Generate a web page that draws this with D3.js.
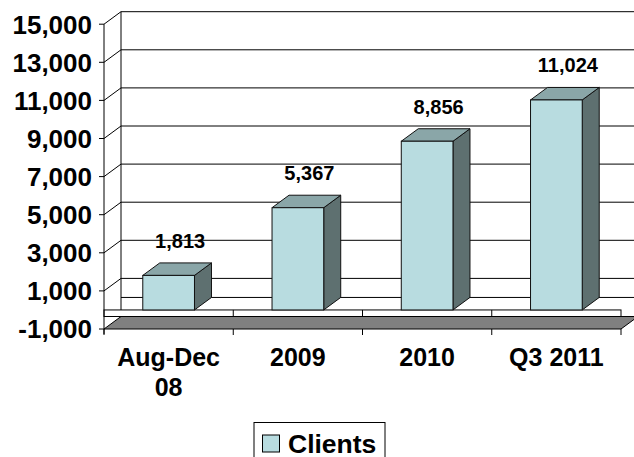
<!DOCTYPE html>
<html><head><meta charset="utf-8">
<script src="https://cdn.jsdelivr.net/npm/d3@7"></script>
<style>
html,body{margin:0;padding:0;background:#fff;}
svg{display:block;font-family:"Liberation Sans",Arial,sans-serif;font-weight:bold;}
</style></head>
<body>
<svg id="c" width="634" height="457"></svg>
<script>
const categories = ["Aug-Dec 08", "2009", "2010", "Q3 2011"];
const categoryLines = [["Aug-Dec", "08"], ["2009"], ["2010"], ["Q3 2011"]];
const clients = [1813, 5367, 8856, 11024];
const labels = ["1,813", "5,367", "8,856", "11,024"];
const yTicks = [-1000, 1000, 3000, 5000, 7000, 9000, 11000, 13000, 15000];
const seriesName = "Clients";

const svg = d3.select("#c");
const left = 104, right = 621, dx = 17, dy = 12.5;
const y = d3.scaleLinear().domain([-1000, 15000]).range([329, 24.2]);
const x = d3.scaleBand().domain(categories).range([left, right]).padding(0);
const bw = x.bandwidth() * 0.4;
const fmt = v => d3.format(",")(v).replace("\u2212", "-");

const cFront = "#b8dce0", cTop = "#8aa6a8", cSide = "#5e7070";

// back wall gridlines
const g = svg.append("g");
yTicks.filter(v => v > -1000).forEach(v => {
  g.append("line").attr("x1", left + dx).attr("x2", right + dx)
    .attr("y1", y(v) - dy).attr("y2", y(v) - dy).attr("stroke", "#000").attr("stroke-width", 1);
  // left wall diagonals
  g.append("line").attr("x1", left).attr("y1", y(v)).attr("x2", left + dx).attr("y2", y(v) - dy)
    .attr("stroke", "#000");
});
// back zero line
g.append("line").attr("x1", left + dx).attr("x2", right + dx)
  .attr("y1", y(0) - dy).attr("y2", y(0) - dy).attr("stroke", "#000");
// back wall left vertical
g.append("line").attr("x1", left + dx).attr("x2", left + dx)
  .attr("y1", y(15000) - dy).attr("y2", y(-1000) - dy).attr("stroke", "#000");

// floor at -1000
const fy = y(-1000);
g.append("path")
  .attr("d", `M${left},${fy}L${left + dx},${fy - dy}L${right + dx},${fy - dy}L${right},${fy}Z`)
  .attr("fill", "#808080").attr("stroke", "#000").attr("stroke-width", 1);

// zero plane strip
const zy = y(0);
g.append("rect").attr("x", left).attr("y", zy).attr("width", right - left).attr("height", (fy - dy) - zy)
  .attr("fill", "#fff").attr("stroke", "#000");
x.domain().slice(1).forEach(c => {
  g.append("line").attr("x1", x(c)).attr("x2", x(c)).attr("y1", zy).attr("y2", fy - dy).attr("stroke", "#000");
});

// value axis line and ticks
g.append("line").attr("x1", left).attr("x2", left).attr("y1", y(15000)).attr("y2", fy + 5).attr("stroke", "#000");
yTicks.forEach(v => {
  g.append("line").attr("x1", left - 5).attr("x2", left).attr("y1", y(v)).attr("y2", y(v)).attr("stroke", "#000");
  g.append("text").attr("x", 92).attr("y", y(v) + 9.3).attr("text-anchor", "end")
    .attr("font-size", 26).text(fmt(v));
});
// category ticks below floor
categories.concat([null]).forEach((c, i) => {
  const xx = c === null ? right : x(c);
  g.append("line").attr("x1", xx).attr("x2", xx).attr("y1", fy).attr("y2", fy + 6).attr("stroke", "#000");
});

// bars
const bars = svg.append("g");
categories.forEach((c, i) => {
  const v = clients[i];
  const x0 = x(c) + (x.bandwidth() - bw) / 2, x1 = x0 + bw;
  const yt = y(v), yb = y(0);
  bars.append("path").attr("d", `M${x1},${yb}L${x1 + dx},${yb - dy}L${x1 + dx},${yt - dy}L${x1},${yt}Z`)
    .attr("fill", cSide).attr("stroke", "#111").attr("stroke-width", 1);
  bars.append("path").attr("d", `M${x0},${yt}L${x0 + dx},${yt - dy}L${x1 + dx},${yt - dy}L${x1},${yt}Z`)
    .attr("fill", cTop).attr("stroke", "#111").attr("stroke-width", 1);
  bars.append("rect").attr("x", x0).attr("y", yt).attr("width", bw).attr("height", yb - yt)
    .attr("fill", cFront).attr("stroke", "#111").attr("stroke-width", 1);
  bars.append("text").attr("x", x(c) + x.bandwidth() / 2 + dx / 2 + 3).attr("y", yt - dy - 15)
    .attr("text-anchor", "middle").attr("font-size", 20).text(labels[i]);
  categoryLines[i].forEach((t, j) => {
    bars.append("text").attr("x", x(c) + x.bandwidth() / 2).attr("y", 365.7 + j * 30)
      .attr("text-anchor", "middle").attr("font-size", 25).text(t);
  });
});

// legend
const lg = svg.append("g");
lg.append("rect").attr("x", 254).attr("y", 422.5).attr("width", 131).attr("height", 45)
  .attr("fill", "#fff").attr("stroke", "#000");
lg.append("rect").attr("x", 262.5).attr("y", 435).attr("width", 17).attr("height", 17)
  .attr("fill", cFront).attr("stroke", "#000");
lg.append("text").attr("x", 288).attr("y", 452.5).attr("font-size", 26.5).text(seriesName);
</script>
</body></html>
